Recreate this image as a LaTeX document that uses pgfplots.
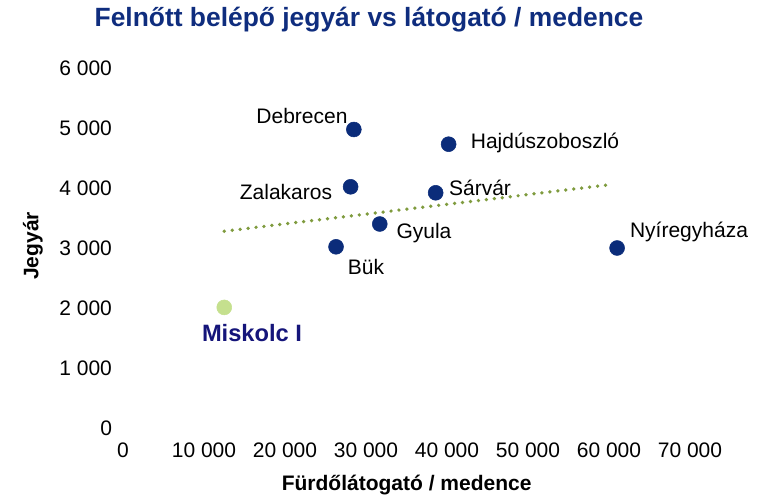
\documentclass[border=0pt]{standalone}
\usepackage{fontspec}
\setmainfont{Liberation Sans}
\usepackage{pgfplots}
\pgfplotsset{compat=1.18}
\definecolor{navy}{HTML}{0B2C7A}
\definecolor{lgreen}{HTML}{C5E08E}
\definecolor{trend}{HTML}{7F9B3E}
\definecolor{titlec}{HTML}{0F2D7E}
\definecolor{misk}{HTML}{15157A}
\begin{document}
\begin{tikzpicture}
\useasboundingbox (0,0) rectangle (575.25pt,373.5pt);
\begin{axis}[
  at={(92.25pt,52.5pt)}, anchor=south west,
  scale only axis, width=425.25pt, height=270pt,
  xmin=0, xmax=70000, ymin=0, ymax=6000,
  scaled ticks=false,
  axis line style={draw=none}, tick style={draw=none},
  xtick={0,10000,...,70000},
  xticklabels={0,10 000,20 000,30 000,40 000,50 000,60 000,70 000},
  ytick={0,1000,...,6000},
  yticklabels={0,1 000,2 000,3 000,4 000,5 000,6 000},
  ticklabel style={font=\fontsize{15.75}{18}\selectfont},
  xticklabel style={yshift=-7.75pt},
  yticklabel style={xshift=-4.75pt},
  clip=false,
]
\addplot[trend, line width=2.8pt, line cap=round, dash pattern=on 0pt off 6pt] coordinates {(12500,3280) (60400,4060)};
\addplot[only marks, mark=*, mark size=5.6pt, color=navy, mark options={draw=navy, fill=navy}] coordinates {
(28500,4975) (40200,4730) (28100,4020) (38600,3920) (31700,3400) (26300,3020) (61000,3000)};
\addplot[only marks, mark=*, mark size=5.6pt, mark options={draw=lgreen, fill=lgreen}] coordinates {(12500,2010)};
\begin{scope}[font=\fontsize{15.75}{18}\selectfont]
\node at (axis cs:22099,5200) {Debrecen};
\node at (axis cs:52099,4750) {Hajdúszoboszló};
\node at (axis cs:20123,3933) {Zalakaros};
\node at (axis cs:44074,4000) {Sárvár};
\node at (axis cs:37160,3250) {Gyula};
\node at (axis cs:30000,2683) {Bük};
\node at (axis cs:69877,3267) {Nyíregyháza};
\node[text=misk, font=\fontsize{17.75}{20}\selectfont\bfseries] at (axis cs:15926,1583) {Miskolc I};
\end{scope}
\end{axis}
\node[anchor=base, text=titlec, font=\fontsize{19.8}{23}\selectfont\bfseries] at (276.75pt,353.25pt) {Felnőtt belépő jegyár vs látogató / medence};
\node[font=\fontsize{15.75}{18}\selectfont\bfseries] at (305pt,9.75pt) {Fürdőlátogató / medence};
\node[font=\fontsize{15.75}{18}\selectfont\bfseries, rotate=90] at (24.75pt,189pt) {Jegyár};
\end{tikzpicture}
\end{document}
